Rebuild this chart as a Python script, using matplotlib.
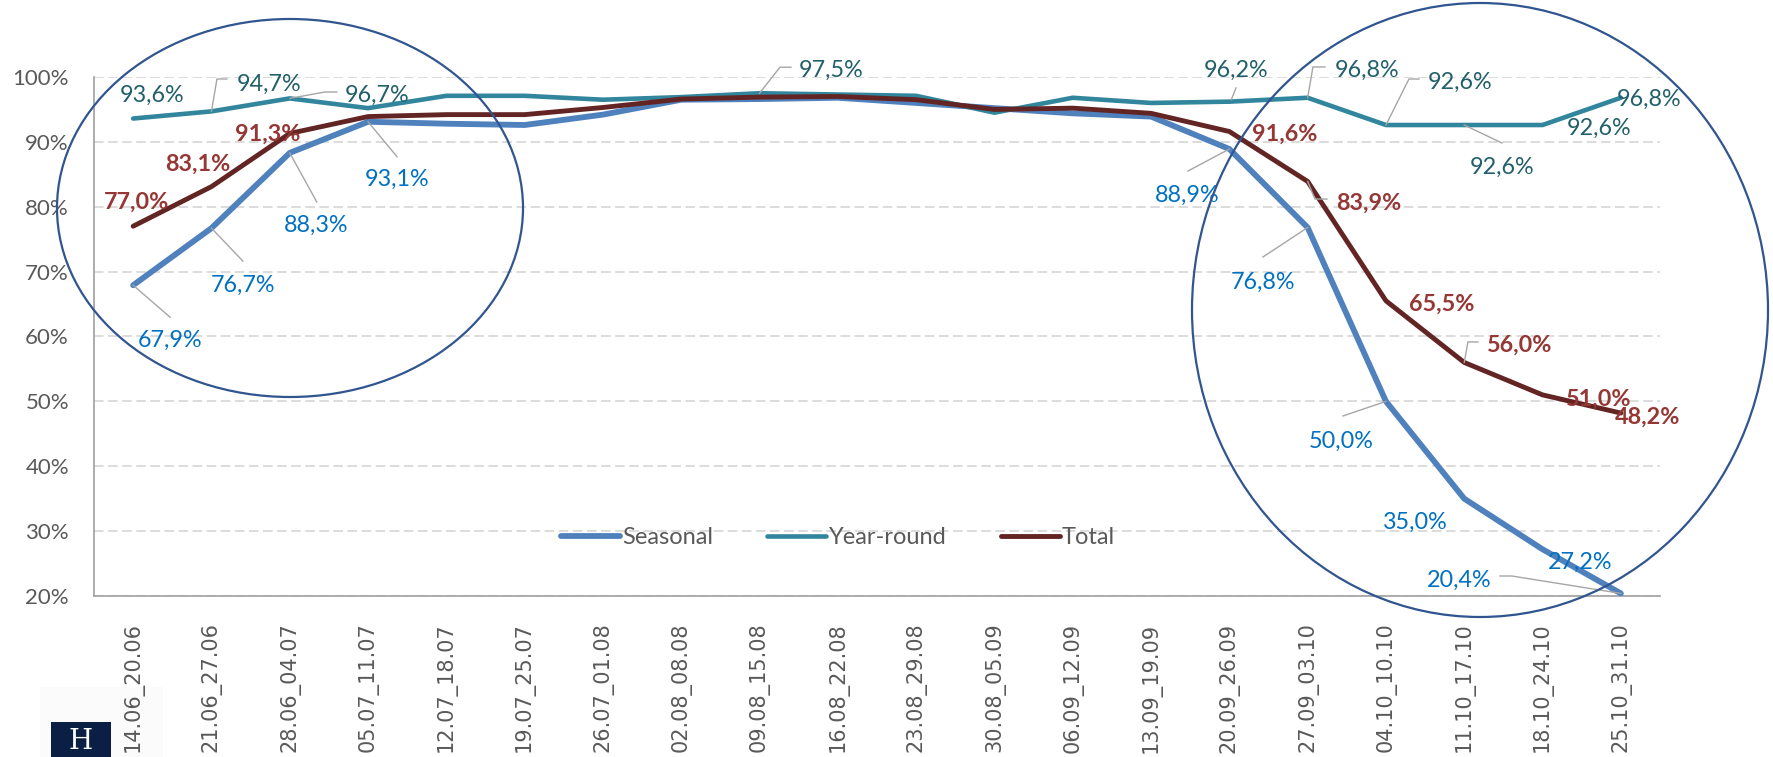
import matplotlib
matplotlib.use("Agg")
import matplotlib.pyplot as plt
from matplotlib.lines import Line2D
from matplotlib.patches import Ellipse, Rectangle
import numpy as np

# ---------------- data ----------------
categories = ['14.06_20.06', '21.06_27.06', '28.06_04.07', '05.07_11.07', '12.07_18.07',
              '19.07_25.07', '26.07_01.08', '02.08_08.08', '09.08_15.08', '16.08_22.08',
              '23.08_29.08', '30.08_05.09', '06.09_12.09', '13.09_19.09', '20.09_26.09',
              '27.09_03.10', '04.10_10.10', '11.10_17.10', '18.10_24.10', '25.10_31.10']

seasonal = [67.9, 76.7, 88.3, 93.1, 92.8, 92.6, 94.2, 96.5, 96.6, 96.8,
            96.0, 95.2, 94.4, 93.9, 88.9, 76.8, 50.0, 35.0, 27.2, 20.4]
year_round = [93.6, 94.7, 96.7, 95.2, 97.1, 97.1, 96.5, 96.9, 97.5, 97.3,
              97.1, 94.5, 96.8, 96.0, 96.2, 96.8, 92.6, 92.6, 92.6, 96.8]
total = [77.0, 83.1, 91.3, 93.9, 94.2, 94.2, 95.3, 96.6, 96.9, 97.0,
         96.5, 95.0, 95.2, 94.4, 91.6, 83.9, 65.5, 56.0, 51.0, 48.2]

series_names = ['Seasonal', 'Year-round', 'Total']
y_ticks = [20, 30, 40, 50, 60, 70, 80, 90, 100]

# labelled points: index -> (dx, dy) label offset in px (dy down), leader polyline offsets
seasonal_labels = {
    0: ((37, 53), [(0, 0), (37, 32)]),
    1: ((31.5, 55), [(0, 0), (31.5, 33)]),
    2: ((26, 71), [(0, 0), (27, 49)]),
    3: ((29, 56), [(0, 0), (29, 35)]),
    14: ((-42.4, 44), [(0, 0), (-41.4, 22)]),
    15: ((-44.7, 52.5), [(0, 0), (-44.7, 29.5)]),
    16: ((-45, 37.6), [(0, 0), (-43, 14.6)]),
    17: ((-49.3, 21.3), None),
    18: ((37.4, 10.7), None),
    19: ((-162, -15.4), [(0, 0), (-109, -17.4), (-121, -17.4)]),
}
year_labels = {
    0: ((19, -25.5), None),
    1: ((57.5, -29.4), [(0, 0), (5.5, -32.4), (15.5, -32.4)]),
    2: ((87, -5.4), [(0, 0), (35, -6.4), (47, -6.4)]),
    8: ((71.4, -25), [(0, 0), (20.4, -26), (31.4, -26)]),
    14: ((6.6, -33.7), [(2, -2), (6.6, -13.7)]),
    15: ((59.3, -29.8), [(0, 0), (5.3, -30.8), (17.3, -30.8)]),
    16: ((74, -45), [(0, 0), (23, -46), (33, -46)]),
    17: ((37.7, 40), [(0, 0), (37.7, 18)]),
    18: ((56.4, 1), None),
    19: ((28, 0), None),
}
total_labels = {
    0: ((3, -26), None),
    1: ((-13.5, -24.6), None),
    2: ((-21.8, -1.4), None),
    14: ((55.6, 0.5), None),
    15: ((61.3, 19.6), [(0, 0), (7.3, 17.6), (19.3, 17.6)]),
    16: ((56, 1.2), None),
    17: ((55.7, -19.5), [(0, 0), (3.7, -20.5), (13.7, -20.5)]),
    18: ((56.4, 2), None),
    19: ((27, 2), None),
}

# ---------------- style ----------------
W, H = 1774, 757
line_colors = ['#4F81BD', '#31859C', '#632523']
label_colors = ['#0070C0', '#215F6A', '#953735']
line_widths = [4.2, 3.3, 3.5]
gray_text = '#595959'
font = ['Lato', 'DejaVu Sans']

fig = plt.figure(figsize=(W / 100, H / 100), dpi=100)
ax = fig.add_axes([94 / W, 1 - 596 / H, (1660 - 94) / W, (596 - 77) / H])

x = np.arange(len(categories))
all_series = [seasonal, year_round, total]
for k, (vals, name) in enumerate(zip(all_series, series_names)):
    ax.plot(x, vals, color=line_colors[k], lw=line_widths[k], label=name,
            solid_capstyle='round', solid_joinstyle='round', zorder=3 + k)

ax.set_xlim(-0.5, len(categories) - 0.5)
ax.set_ylim(20, 100)
ax.set_yticks(y_ticks)
ax.set_yticklabels([f'{t}%' for t in y_ticks], fontfamily=font, fontsize=16, color=gray_text)
ax.set_xticks(x)
ax.set_xticklabels(categories, rotation=90, fontfamily='DejaVu Sans', fontsize=15,
                   color=gray_text, ha='center', va='top')
ax.tick_params(axis='y', length=0, pad=18)
ax.tick_params(axis='x', length=0, pad=19)

ax.yaxis.grid(True, color='#D9D9D9', linestyle=(0, (5.3, 2.5)), linewidth=1.3, zorder=0)
ax.set_axisbelow(True)
for s in ['top', 'right']:
    ax.spines[s].set_visible(False)
for s in ['left', 'bottom']:
    ax.spines[s].set_color('#A0A0A0')
    ax.spines[s].set_linewidth(1.2)

leg = ax.legend(loc='center', bbox_to_anchor=(0.475, 0.112), ncol=3, frameon=False,
                handlelength=2.5, handletextpad=0.1, columnspacing=2.3,
                prop={'family': font, 'size': 17})
for t in leg.get_texts():
    t.set_color(gray_text)

# ---------------- data labels ----------------
inv = fig.transFigure.inverted()


def fmt(v):
    return f'{v:.1f}'.replace('.', ',') + '%'


def add_labels(vals, labels, color, bold):
    for i, ((dx, dy), leader) in labels.items():
        v = vals[i]
        ax.annotate(fmt(v), xy=(i, v), xytext=(dx, -(dy + 8.4)), textcoords='offset pixels',
                    ha='center', va='baseline', fontsize=16.8, fontfamily=font,
                    fontweight='bold' if bold else 'normal', color=color,
                    annotation_clip=False, zorder=10)
        if leader:
            px, py = ax.transData.transform((i, v))
            pts = np.array([(px + ox, py - oy) for ox, oy in leader])
            fpts = inv.transform(pts)
            fig.add_artist(Line2D(fpts[:, 0], fpts[:, 1], color='#A6A6A6', lw=1.0,
                                  transform=fig.transFigure, zorder=9))


add_labels(seasonal, seasonal_labels, label_colors[0], False)
add_labels(year_round, year_labels, label_colors[1], False)
add_labels(total, total_labels, label_colors[2], True)

# ---------------- ellipses (annotation shapes, in pixel layout) ----------------
def fx(px):
    return px / W


def fy(py):
    return 1 - py / H


for (cx, cy, ew, eh) in [(290, 208, 466, 378), (1480, 310, 576, 614)]:
    fig.add_artist(Ellipse((fx(cx), fy(cy)), ew / W, eh / H, fill=False,
                           edgecolor='#30558F', lw=1.6, transform=fig.transFigure, zorder=11))

# ---------------- logo ----------------
fig.add_artist(Rectangle((fx(40), fy(757)), 123 / W, 70 / H, facecolor='#FBFBFB',
                         edgecolor='none', transform=fig.transFigure, zorder=0))
fig.add_artist(Rectangle((fx(51), fy(757)), 60 / W, 35 / H, facecolor='#0B1F45',
                         edgecolor='none', transform=fig.transFigure, zorder=1))
fig.text(fx(81), fy(755), 'H', color='white', fontsize=20, fontfamily='DejaVu Serif',
         ha='center', va='bottom', zorder=2)

fig.savefig('out.png', dpi=100)
